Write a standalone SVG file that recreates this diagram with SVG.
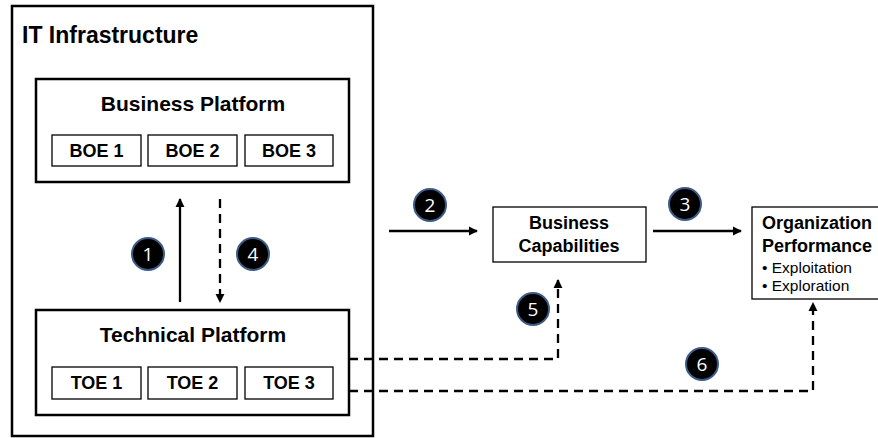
<svg xmlns="http://www.w3.org/2000/svg" width="878" height="438" viewBox="0 0 878 438">
<style>
.box{fill:#fff;stroke:#000;stroke-width:2.5}
.sub{fill:#fff;stroke:#000;stroke-width:1.3}
.thin{fill:#fff;stroke:#000;stroke-width:1.3}
.t{font-family:"Liberation Sans",Arial,sans-serif;font-weight:bold;fill:#000}
.n{font-family:"Liberation Sans",Arial,sans-serif;fill:#000}
.c{fill:#000;stroke:#3d5b86;stroke-width:2}
.ct{font-family:"Open Sans","Liberation Sans",sans-serif;font-size:19px;fill:#fff;text-anchor:middle}
.ln{fill:none;stroke:#000;stroke-width:2.3}
.dash{stroke-dasharray:9,6}
</style>
<defs>
<marker id="ah" viewBox="0 0 10 10" refX="9" refY="5" markerWidth="4" markerHeight="4" orient="auto" markerUnits="strokeWidth">
<path d="M0,0 L10,5 L0,10 z" fill="#000"/>
</marker>
</defs>
<g id="it-infrastructure">
<rect class="box" x="12" y="6" width="361" height="430" stroke-width="2"/>
<text class="t" x="22" y="43" font-size="23">IT Infrastructure</text>
</g>
<g id="business-platform">
<rect class="box" x="36" y="79" width="313" height="103"/>
<text class="t" x="193" y="111" font-size="21" text-anchor="middle">Business Platform</text>
</g>
<g id="boe1"><rect class="sub" x="52" y="135" width="89" height="31"/><text class="t" x="96.5" y="157" font-size="18" text-anchor="middle">BOE 1</text></g>
<g id="boe2"><rect class="sub" x="148" y="135" width="89" height="31"/><text class="t" x="192.5" y="157" font-size="18" text-anchor="middle">BOE 2</text></g>
<g id="boe3"><rect class="sub" x="245" y="135" width="88" height="31"/><text class="t" x="289" y="157" font-size="18" text-anchor="middle">BOE 3</text></g>
<g id="technical-platform">
<rect class="box" x="36" y="310" width="313" height="105"/>
<text class="t" x="193" y="342" font-size="21" text-anchor="middle">Technical Platform</text>
</g>
<g id="toe1"><rect class="sub" x="52" y="367" width="89" height="32"/><text class="t" x="96.5" y="389" font-size="18" text-anchor="middle">TOE 1</text></g>
<g id="toe2"><rect class="sub" x="148" y="367" width="89" height="32"/><text class="t" x="192.5" y="389" font-size="18" text-anchor="middle">TOE 2</text></g>
<g id="toe3"><rect class="sub" x="245" y="367" width="88" height="32"/><text class="t" x="289" y="389" font-size="18" text-anchor="middle">TOE 3</text></g>
<g id="business-capabilities">
<rect class="thin" x="493" y="207" width="153" height="55"/>
<text class="t" x="569" y="229" font-size="18" text-anchor="middle">Business</text>
<text class="t" x="569" y="252" font-size="18" text-anchor="middle">Capabilities</text>
</g>
<g id="organization-performance">
<rect class="thin" x="752" y="207" width="140" height="92"/>
<text class="t" x="762" y="229" font-size="18">Organization</text>
<text class="t" x="762" y="252" font-size="18">Performance</text>
<text class="n" x="762" y="273" font-size="15.5">• Exploitation</text>
<text class="n" x="762" y="291" font-size="15.5">• Exploration</text>
</g>
<g id="connectors">
<line class="ln" x1="180" y1="302" x2="180" y2="199" marker-end="url(#ah)"/>
<line class="ln dash" x1="220" y1="199" x2="220" y2="302" marker-end="url(#ah)"/>
<line class="ln" x1="389" y1="231" x2="477" y2="231" marker-end="url(#ah)"/>
<line class="ln" x1="653" y1="231" x2="741" y2="231" marker-end="url(#ah)"/>
<polyline class="ln dash" points="349,359 558,359 558,280" marker-end="url(#ah)"/>
<polyline class="ln dash" points="349,391 813,391 813,303" marker-end="url(#ah)"/>
</g>
<g id="badge1"><circle class="c" cx="148" cy="254" r="16"/><text class="ct" x="148" y="261">1</text></g>
<g id="badge2"><circle class="c" cx="430" cy="205" r="16"/><text class="ct" x="430" y="212">2</text></g>
<g id="badge3"><circle class="c" cx="685" cy="204" r="16"/><text class="ct" x="685" y="211">3</text></g>
<g id="badge4"><circle class="c" cx="253" cy="254" r="16"/><text class="ct" x="253" y="261">4</text></g>
<g id="badge5"><circle class="c" cx="533" cy="309" r="16"/><text class="ct" x="533" y="316">5</text></g>
<g id="badge6"><circle class="c" cx="702" cy="364" r="16"/><text class="ct" x="702" y="371">6</text></g>
</svg>
